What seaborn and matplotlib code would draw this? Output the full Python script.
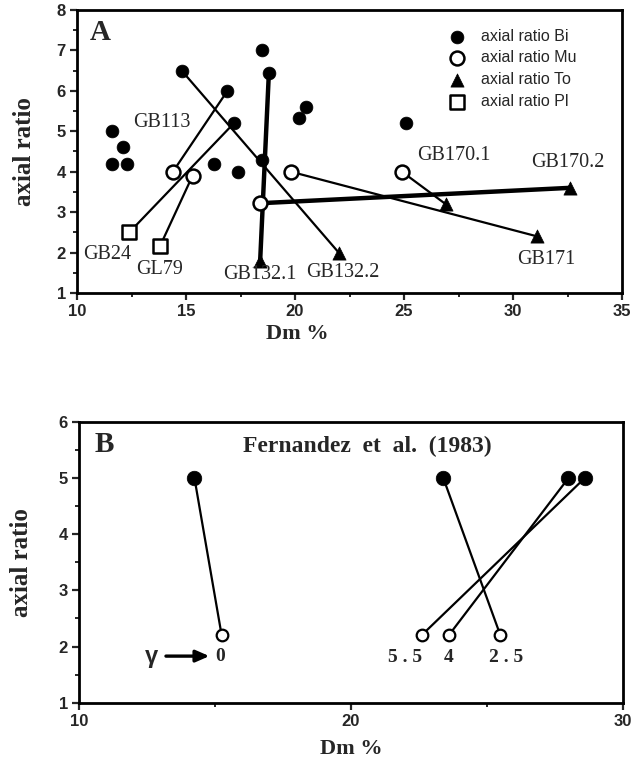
import numpy as np
import pandas as pd
import matplotlib
matplotlib.use("Agg")
import matplotlib.pyplot as plt
import seaborn as sns
from matplotlib.ticker import MultipleLocator

# ---- panel A data: axial ratio vs Dm % for each mineral
bi_x = [11.6, 12.1, 11.6, 12.3, 14.8, 16.9, 17.2, 16.3, 17.4, 18.5, 18.8, 18.5, 20.2, 20.5, 25.1]
bi_y = [5.0, 4.6, 4.2, 4.2, 6.5, 6.0, 5.2, 4.2, 4.0, 7.0, 6.45, 4.3, 5.33, 5.6, 5.2]
mu_x = [14.4, 15.3, 18.4, 19.8, 24.9]
mu_y = [4.0, 3.9, 3.22, 4.0, 4.0]
to_x = [18.4, 22.0, 26.9, 31.1, 32.6]
to_y = [1.8, 2.0, 3.2, 2.4, 3.6]
pl_x = [12.4, 13.8]
pl_y = [2.5, 2.15]

# sample tie lines (from, to)
samples = ["GB24", "GL79", "GB113", "GB132.2", "GB132.1", "GB170.2", "GB171", "GB170.1"]
seg_x0 = [12.4, 13.8, 14.4, 14.8, 18.4, 18.4, 19.8, 24.9]
seg_y0 = [2.5, 2.15, 4.0, 6.5, 1.8, 3.22, 4.0, 4.0]
seg_x1 = [17.2, 15.3, 16.9, 22.0, 18.8, 32.6, 31.1, 26.9]
seg_y1 = [5.2, 3.9, 6.0, 2.0, 6.45, 3.6, 2.4, 3.2]
thick = ["GB132.1", "GB170.2"]

# ---- panel B data: Fernandez et al. (1983)
fz_bi_x = [14.25, 23.4, 28.0, 28.6]
fz_bi_y = [5.0, 5.0, 5.0, 5.0]
fz_mu_x = [15.25, 25.5, 23.6, 22.6]
fz_mu_y = [2.2, 2.2, 2.2, 2.2]
gamma = ["0", "2.5", "4", "5.5"]

sns.set_style("ticks")
plt.rcParams["font.family"] = ["Liberation Sans", "DejaVu Sans"]

fig = plt.figure(figsize=(6.31, 7.63), dpi=100)
axA = fig.add_axes([0.122, 0.616, 0.864, 0.371])
axB = fig.add_axes([0.125, 0.079, 0.862, 0.368])

serif = "Liberation Serif"

# ---------------- panel A
for s, x0, y0, x1, y1 in zip(samples, seg_x0, seg_y0, seg_x1, seg_y1):
    lw = 3.2 if s in thick else 1.6
    axA.plot([x0, x1], [y0, y1], color="black", lw=lw, zorder=2)

pts = pd.concat([
    pd.DataFrame({"Dm": bi_x, "ratio": bi_y, "kind": "axial ratio Bi"}),
    pd.DataFrame({"Dm": mu_x, "ratio": mu_y, "kind": "axial ratio Mu"}),
    pd.DataFrame({"Dm": to_x, "ratio": to_y, "kind": "axial ratio To"}),
    pd.DataFrame({"Dm": pl_x, "ratio": pl_y, "kind": "axial ratio Pl"}),
])

# filled vs open markers drawn per kind
sns.scatterplot(data=pts[pts.kind == "axial ratio Bi"], x="Dm", y="ratio", marker="o", s=85,
                color="black", edgecolor="black", linewidth=0.5, ax=axA, zorder=3, label="axial ratio Bi")
sns.scatterplot(data=pts[pts.kind == "axial ratio Mu"], x="Dm", y="ratio", marker="o", s=100,
                facecolor="white", edgecolor="black", linewidth=1.8, ax=axA, zorder=3, label="axial ratio Mu")
sns.scatterplot(data=pts[pts.kind == "axial ratio To"], x="Dm", y="ratio", marker="^", s=90,
                color="black", edgecolor="black", linewidth=0.5, ax=axA, zorder=3, label="axial ratio To")
sns.scatterplot(data=pts[pts.kind == "axial ratio Pl"], x="Dm", y="ratio", marker="s", s=100,
                facecolor="white", edgecolor="black", linewidth=1.8, ax=axA, zorder=3, label="axial ratio Pl")

lab_pos = {"GB113": (13.9, 5.22), "GB24": (11.4, 1.95), "GL79": (13.8, 1.58),
           "GB132.1": (18.4, 1.45), "GB132.2": (22.2, 1.5), "GB171": (31.5, 1.84),
           "GB170.1": (27.3, 4.4), "GB170.2": (32.5, 4.23)}
for s in samples:
    x, y = lab_pos[s]
    axA.text(x, y, s, family=serif, fontsize=14.5, ha="center", va="center")

axA.text(11.05, 7.45, "A", family=serif, fontsize=21, fontweight="bold", ha="center", va="center")

leg = axA.legend(loc="upper right", frameon=False, fontsize=11.5, handletextpad=0.5,
                 labelspacing=0.42, borderaxespad=0.6, bbox_to_anchor=(0.945, 0.99))

axA.set_xlim(10, 35)
axA.set_ylim(1, 8)
axA.xaxis.set_major_locator(MultipleLocator(5))
axA.xaxis.set_minor_locator(MultipleLocator(2.5))
axA.yaxis.set_major_locator(MultipleLocator(1))
axA.yaxis.set_minor_locator(MultipleLocator(0.5))
axA.set_xlabel("Dm %", family=serif, fontsize=16, fontweight="bold")
axA.set_ylabel("axial ratio", family=serif, fontsize=18, fontweight="bold")
axA.xaxis.set_label_coords(0.404, -0.11)
axA.yaxis.set_label_coords(-0.075, 0.5)

# ---------------- panel B
for x0, y0, x1, y1 in zip(fz_bi_x, fz_bi_y, fz_mu_x, fz_mu_y):
    axB.plot([x0, x1], [y0, y1], color="black", lw=1.6, zorder=2)
sns.scatterplot(x=fz_bi_x, y=fz_bi_y, marker="o", s=110, color="black", edgecolor="black",
                linewidth=0.5, ax=axB, zorder=3)
sns.scatterplot(x=fz_mu_x, y=fz_mu_y, marker="o", s=70, facecolor="white", edgecolor="black",
                linewidth=1.6, ax=axB, zorder=3)

g_pos = [(15.2, 1.83), (25.7, 1.8), (23.6, 1.8), (22.0, 1.8)]
for g, (x, y) in zip(gamma, g_pos):
    axB.text(x, y, g.replace(".", " . "), family=serif, fontsize=14, fontweight="bold",
             ha="center", va="center")

axB.text(12.66, 1.83, "γ", fontsize=17, fontweight="bold", ha="center", va="center")
axB.annotate("", xy=(14.9, 1.83), xytext=(13.1, 1.83),
             arrowprops=dict(arrowstyle="-|>,head_length=0.8,head_width=0.35", lw=2.4, color="black"))

axB.text(10.95, 5.6, "B", family=serif, fontsize=21, fontweight="bold", ha="center", va="center")
axB.text(20.6, 5.57, "Fernandez  et  al.  (1983)", family=serif, fontsize=17, fontweight="bold",
         ha="center", va="center")

axB.set_xlim(10, 30)
axB.set_ylim(1, 6)
axB.xaxis.set_major_locator(MultipleLocator(10))
axB.xaxis.set_minor_locator(MultipleLocator(5))
axB.yaxis.set_major_locator(MultipleLocator(1))
axB.yaxis.set_minor_locator(MultipleLocator(0.5))
axB.set_xlabel("Dm %", family=serif, fontsize=16, fontweight="bold")
axB.set_ylabel("axial ratio", family=serif, fontsize=18, fontweight="bold")
axB.xaxis.set_label_coords(0.5, -0.13)
axB.yaxis.set_label_coords(-0.085, 0.5)

for ax in (axA, axB):
    for sp in ax.spines.values():
        sp.set_linewidth(2.0)
        sp.set_color("black")
    ax.tick_params(which="major", direction="out", length=5, width=1.6, labelsize=12, pad=3)
    ax.tick_params(which="minor", direction="out", length=3, width=1.4)
    for t in ax.get_xticklabels() + ax.get_yticklabels():
        t.set_fontweight("bold")

fig.savefig("out.png", dpi=100)
